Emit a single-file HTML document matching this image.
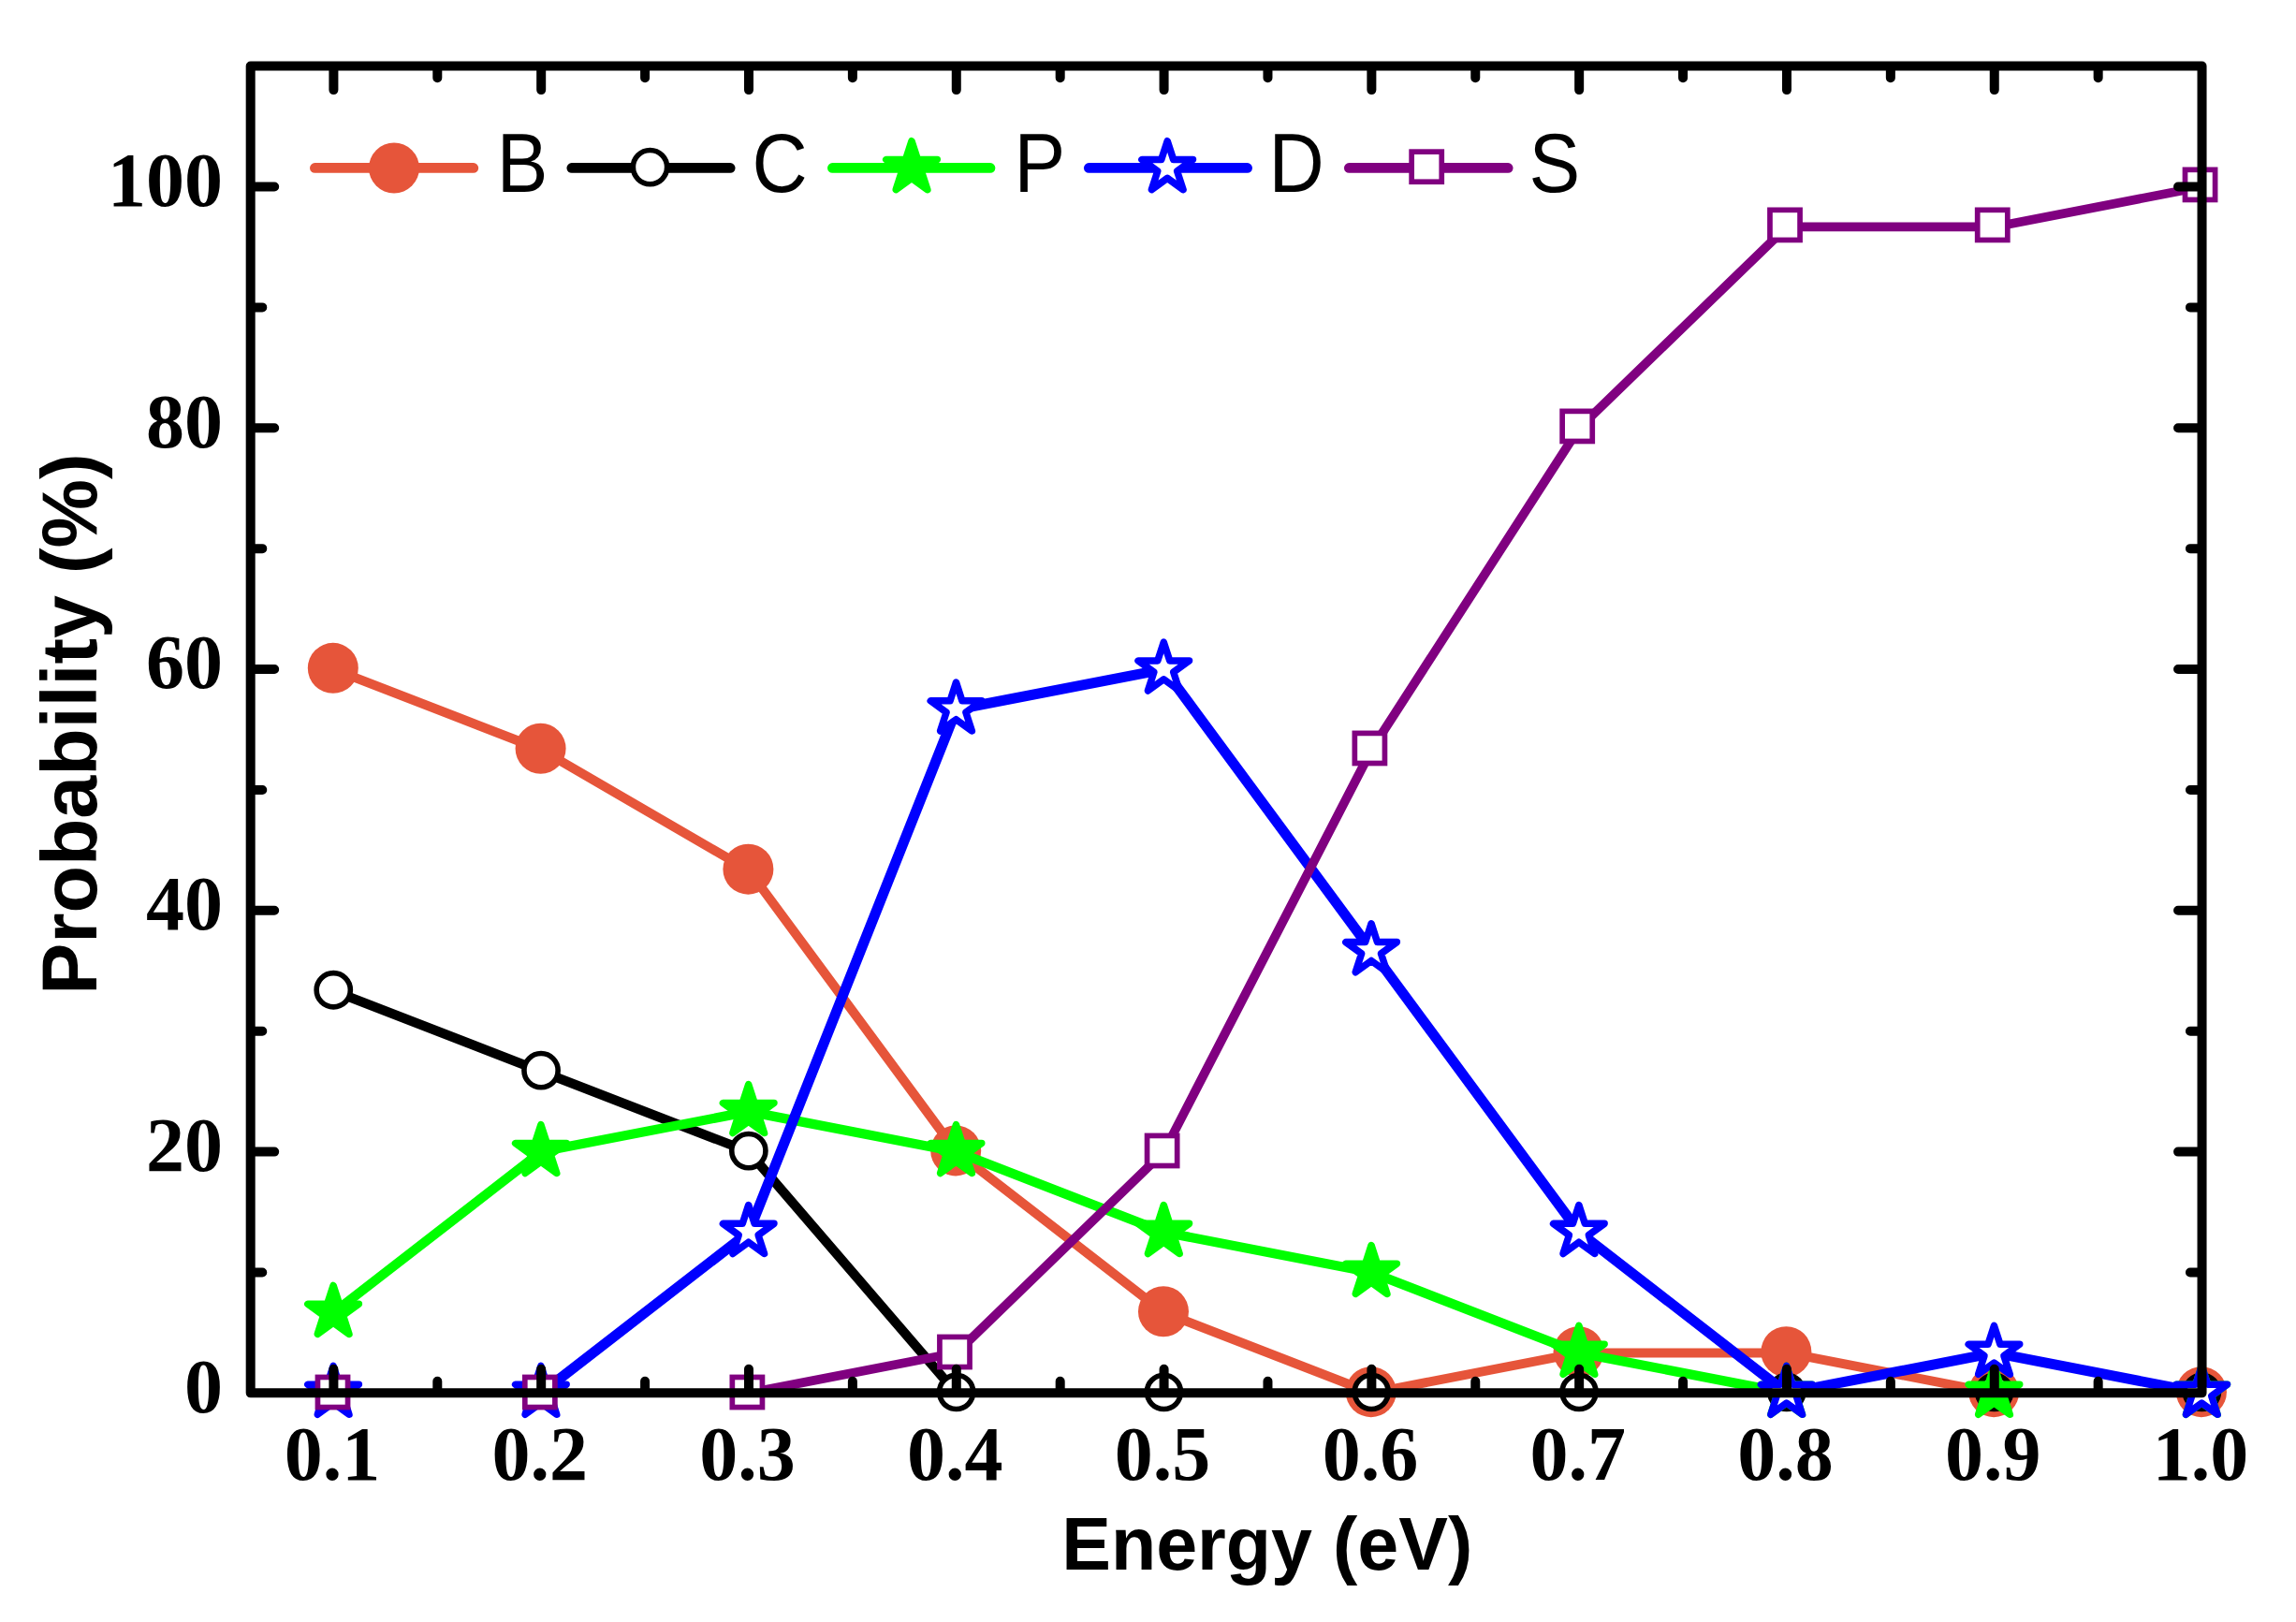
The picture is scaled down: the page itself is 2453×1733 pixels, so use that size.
<!DOCTYPE html>
<html lang="en"><head><meta charset="utf-8"><title>Probability vs Energy</title>
<style>html,body{margin:0;padding:0;background:#fff}svg{display:block}.tk{font-family:"Liberation Serif","Times New Roman",serif;font-weight:bold;font-size:82px;fill:#000}.lg{font-family:"Liberation Sans",Arial,sans-serif;font-size:82px;fill:#000}.ti{font-family:"Liberation Sans",Arial,sans-serif;font-weight:bold;fill:#000}</style></head><body>
<svg width="2453" height="1733" viewBox="0 0 2453 1733">
<rect width="2453" height="1733" fill="#fff"/>
<g id="series-B">
<polyline points="356.40,715.05 578.19,800.97 799.99,929.86 1021.78,1230.60 1243.58,1402.45 1465.37,1488.37 1687.16,1445.41 1908.96,1445.41 2130.75,1488.37" fill="none" stroke="#E6553A" stroke-width="10.0" stroke-linejoin="round" stroke-linecap="round"/>
<polyline points="2130.75,1488.37 2352.55,1488.37" fill="none" stroke="#E6553A" stroke-width="7.0" stroke-linejoin="round" stroke-linecap="round"/>
<circle cx="355.80" cy="713.85" r="27" fill="#E6553A"/>
<circle cx="577.59" cy="799.77" r="27" fill="#E6553A"/>
<circle cx="799.39" cy="928.66" r="27" fill="#E6553A"/>
<circle cx="1021.18" cy="1229.40" r="27" fill="#E6553A"/>
<circle cx="1242.98" cy="1401.25" r="27" fill="#E6553A"/>
<circle cx="1464.77" cy="1487.17" r="27" fill="#E6553A"/>
<circle cx="1686.56" cy="1444.21" r="27" fill="#E6553A"/>
<circle cx="1908.36" cy="1444.21" r="27" fill="#E6553A"/>
<circle cx="2130.15" cy="1487.17" r="27" fill="#E6553A"/>
<circle cx="2351.95" cy="1487.17" r="27" fill="#E6553A"/>
</g>
<g id="series-C">
<polyline points="356.40,1058.75 578.19,1144.67 799.99,1230.60 1021.78,1488.37" fill="none" stroke="#000000" stroke-width="10.2" stroke-linejoin="round" stroke-linecap="round"/>
<polyline points="1021.78,1488.37 1243.58,1488.37 1465.37,1488.37 1687.16,1488.37 1908.96,1488.37 2130.75,1488.37 2352.55,1488.37" fill="none" stroke="#000000" stroke-width="7.0" stroke-linejoin="round" stroke-linecap="round"/>
<circle cx="356.25" cy="1057.75" r="18.1" fill="#fff" stroke="#000000" stroke-width="5.6"/>
<circle cx="578.04" cy="1143.67" r="18.1" fill="#fff" stroke="#000000" stroke-width="5.6"/>
<circle cx="799.84" cy="1229.60" r="18.1" fill="#fff" stroke="#000000" stroke-width="5.6"/>
<circle cx="1021.63" cy="1487.37" r="18.1" fill="#fff" stroke="#000000" stroke-width="5.6"/>
<circle cx="1243.43" cy="1487.37" r="18.1" fill="#fff" stroke="#000000" stroke-width="5.6"/>
<circle cx="1465.22" cy="1487.37" r="18.1" fill="#fff" stroke="#000000" stroke-width="5.6"/>
<circle cx="1687.01" cy="1487.37" r="18.1" fill="#fff" stroke="#000000" stroke-width="5.6"/>
<circle cx="1908.81" cy="1487.37" r="18.1" fill="#fff" stroke="#000000" stroke-width="5.6"/>
<circle cx="2130.60" cy="1487.37" r="18.1" fill="#fff" stroke="#000000" stroke-width="5.6"/>
<circle cx="2352.40" cy="1487.37" r="18.1" fill="#fff" stroke="#000000" stroke-width="5.6"/>
</g>
<g id="series-P">
<polyline points="356.40,1402.45 578.19,1230.60 799.99,1187.63 1021.78,1230.60 1243.58,1316.52 1465.37,1359.48 1687.16,1445.41 1908.96,1488.37" fill="none" stroke="#00FF00" stroke-width="10.2" stroke-linejoin="round" stroke-linecap="round"/>
<polyline points="1908.96,1488.37 2130.75,1488.37 2352.55,1488.37" fill="none" stroke="#00FF00" stroke-width="7.0" stroke-linejoin="round" stroke-linecap="round"/>
<polygon points="356.10,1373.45 362.54,1393.28 383.40,1393.28 366.53,1405.53 372.97,1425.36 356.10,1413.11 339.23,1425.36 345.67,1405.53 328.80,1393.28 349.66,1393.28" fill="#00FF00" stroke="#00FF00" stroke-width="7.5" stroke-linejoin="round"/>
<polygon points="577.89,1201.60 584.34,1221.43 605.19,1221.43 588.32,1233.68 594.76,1253.51 577.89,1241.26 561.02,1253.51 567.47,1233.68 550.60,1221.43 571.45,1221.43" fill="#00FF00" stroke="#00FF00" stroke-width="7.5" stroke-linejoin="round"/>
<polygon points="799.69,1158.63 806.13,1178.46 826.98,1178.46 810.11,1190.72 816.56,1210.55 799.69,1198.30 782.82,1210.55 789.26,1190.72 772.39,1178.46 793.24,1178.46" fill="#00FF00" stroke="#00FF00" stroke-width="7.5" stroke-linejoin="round"/>
<polygon points="1021.48,1201.60 1027.93,1221.43 1048.78,1221.43 1031.91,1233.68 1038.35,1253.51 1021.48,1241.26 1004.61,1253.51 1011.06,1233.68 994.19,1221.43 1015.04,1221.43" fill="#00FF00" stroke="#00FF00" stroke-width="7.5" stroke-linejoin="round"/>
<polygon points="1243.28,1287.52 1249.72,1307.35 1270.57,1307.35 1253.70,1319.61 1260.15,1339.44 1243.28,1327.18 1226.41,1339.44 1232.85,1319.61 1215.98,1307.35 1236.83,1307.35" fill="#00FF00" stroke="#00FF00" stroke-width="7.5" stroke-linejoin="round"/>
<polygon points="1465.07,1330.48 1471.51,1350.31 1492.37,1350.31 1475.50,1362.57 1481.94,1382.40 1465.07,1370.15 1448.20,1382.40 1454.64,1362.57 1437.77,1350.31 1458.63,1350.31" fill="#00FF00" stroke="#00FF00" stroke-width="7.5" stroke-linejoin="round"/>
<polygon points="1686.86,1416.41 1693.31,1436.24 1714.16,1436.24 1697.29,1448.50 1703.73,1468.33 1686.86,1456.07 1669.99,1468.33 1676.44,1448.50 1659.57,1436.24 1680.42,1436.24" fill="#00FF00" stroke="#00FF00" stroke-width="7.5" stroke-linejoin="round"/>
<polygon points="1908.66,1459.37 1915.10,1479.20 1935.95,1479.20 1919.08,1491.46 1925.53,1511.29 1908.66,1499.03 1891.79,1511.29 1898.23,1491.46 1881.36,1479.20 1902.21,1479.20" fill="#00FF00" stroke="#00FF00" stroke-width="7.5" stroke-linejoin="round"/>
<polygon points="2130.45,1459.37 2136.90,1479.20 2157.75,1479.20 2140.88,1491.46 2147.32,1511.29 2130.45,1499.03 2113.58,1511.29 2120.03,1491.46 2103.16,1479.20 2124.01,1479.20" fill="#00FF00" stroke="#00FF00" stroke-width="7.5" stroke-linejoin="round"/>
<polygon points="2352.25,1459.37 2358.69,1479.20 2379.54,1479.20 2362.67,1491.46 2369.12,1511.29 2352.25,1499.03 2335.38,1511.29 2341.82,1491.46 2324.95,1479.20 2345.80,1479.20" fill="#00FF00" stroke="#00FF00" stroke-width="7.5" stroke-linejoin="round"/>
</g>
<g id="series-D">
<polyline points="356.40,1488.37 578.19,1488.37" fill="none" stroke="#0000FF" stroke-width="7.0" stroke-linejoin="round" stroke-linecap="round"/>
<polyline points="578.19,1488.37 799.99,1316.52 1021.78,758.01 1243.58,715.05 1465.37,1015.78 1687.16,1316.52 1908.96,1488.37 2130.75,1445.41 2352.55,1488.37" fill="none" stroke="#0000FF" stroke-width="11.0" stroke-linejoin="round" stroke-linecap="round"/>
<polygon points="356.10,1459.37 362.54,1479.20 383.40,1479.20 366.53,1491.46 372.97,1511.29 356.10,1499.03 339.23,1511.29 345.67,1491.46 328.80,1479.20 349.66,1479.20" fill="#fff" stroke="#0000FF" stroke-width="7.5" stroke-linejoin="round"/>
<polygon points="577.89,1459.37 584.34,1479.20 605.19,1479.20 588.32,1491.46 594.76,1511.29 577.89,1499.03 561.02,1511.29 567.47,1491.46 550.60,1479.20 571.45,1479.20" fill="#fff" stroke="#0000FF" stroke-width="7.5" stroke-linejoin="round"/>
<polygon points="799.69,1287.52 806.13,1307.35 826.98,1307.35 810.11,1319.61 816.56,1339.44 799.69,1327.18 782.82,1339.44 789.26,1319.61 772.39,1307.35 793.24,1307.35" fill="#fff" stroke="#0000FF" stroke-width="7.5" stroke-linejoin="round"/>
<polygon points="1021.48,729.01 1027.93,748.84 1048.78,748.84 1031.91,761.10 1038.35,780.93 1021.48,768.67 1004.61,780.93 1011.06,761.10 994.19,748.84 1015.04,748.84" fill="#fff" stroke="#0000FF" stroke-width="7.5" stroke-linejoin="round"/>
<polygon points="1243.28,686.05 1249.72,705.88 1270.57,705.88 1253.70,718.14 1260.15,737.97 1243.28,725.71 1226.41,737.97 1232.85,718.14 1215.98,705.88 1236.83,705.88" fill="#fff" stroke="#0000FF" stroke-width="7.5" stroke-linejoin="round"/>
<polygon points="1465.07,986.78 1471.51,1006.62 1492.37,1006.62 1475.50,1018.87 1481.94,1038.70 1465.07,1026.45 1448.20,1038.70 1454.64,1018.87 1437.77,1006.62 1458.63,1006.62" fill="#fff" stroke="#0000FF" stroke-width="7.5" stroke-linejoin="round"/>
<polygon points="1686.86,1287.52 1693.31,1307.35 1714.16,1307.35 1697.29,1319.61 1703.73,1339.44 1686.86,1327.18 1669.99,1339.44 1676.44,1319.61 1659.57,1307.35 1680.42,1307.35" fill="#fff" stroke="#0000FF" stroke-width="7.5" stroke-linejoin="round"/>
<polygon points="1908.66,1459.37 1915.10,1479.20 1935.95,1479.20 1919.08,1491.46 1925.53,1511.29 1908.66,1499.03 1891.79,1511.29 1898.23,1491.46 1881.36,1479.20 1902.21,1479.20" fill="#fff" stroke="#0000FF" stroke-width="7.5" stroke-linejoin="round"/>
<polygon points="2130.45,1416.41 2136.90,1436.24 2157.75,1436.24 2140.88,1448.50 2147.32,1468.33 2130.45,1456.07 2113.58,1468.33 2120.03,1448.50 2103.16,1436.24 2124.01,1436.24" fill="#fff" stroke="#0000FF" stroke-width="7.5" stroke-linejoin="round"/>
<polygon points="2352.25,1459.37 2358.69,1479.20 2379.54,1479.20 2362.67,1491.46 2369.12,1511.29 2352.25,1499.03 2335.38,1511.29 2341.82,1491.46 2324.95,1479.20 2345.80,1479.20" fill="#fff" stroke="#0000FF" stroke-width="7.5" stroke-linejoin="round"/>
</g>
<g id="series-S">
<polyline points="356.40,1488.37 578.19,1488.37 799.99,1488.37" fill="none" stroke="#800080" stroke-width="7.0" stroke-linejoin="round" stroke-linecap="round"/>
<polyline points="799.99,1488.37 1021.78,1445.41 1243.58,1230.60 1465.37,800.97 1687.16,457.27 1908.96,242.46 2130.75,242.46 2352.55,199.50" fill="none" stroke="#800080" stroke-width="9.7" stroke-linejoin="round" stroke-linecap="round"/>
<rect x="339.45" y="1471.45" width="32.1" height="32.1" fill="#fff" stroke="#800080" stroke-width="5.7"/>
<rect x="560.79" y="1471.45" width="32.1" height="32.1" fill="#fff" stroke="#800080" stroke-width="5.7"/>
<rect x="782.34" y="1471.45" width="32.1" height="32.1" fill="#fff" stroke="#800080" stroke-width="5.7"/>
<rect x="1003.93" y="1428.45" width="32.1" height="32.1" fill="#fff" stroke="#800080" stroke-width="5.7"/>
<rect x="1225.56" y="1213.43" width="32.1" height="32.1" fill="#fff" stroke="#800080" stroke-width="5.7"/>
<rect x="1447.35" y="783.40" width="32.1" height="32.1" fill="#fff" stroke="#800080" stroke-width="5.7"/>
<rect x="1669.14" y="439.37" width="32.1" height="32.1" fill="#fff" stroke="#800080" stroke-width="5.7"/>
<rect x="1890.96" y="224.35" width="32.1" height="32.1" fill="#fff" stroke="#800080" stroke-width="5.7"/>
<rect x="2112.70" y="224.35" width="32.1" height="32.1" fill="#fff" stroke="#800080" stroke-width="5.7"/>
<rect x="2334.50" y="181.35" width="32.1" height="32.1" fill="#fff" stroke="#800080" stroke-width="5.7"/>
</g>
<g id="axes" stroke="#000" stroke-width="10" stroke-linecap="round" fill="none">
<rect x="267.68" y="70.61" width="2084.86" height="1417.76" stroke-linejoin="round"/>
<path d="M356.40 1487.37v-24.5 M356.40 71.61v24.5"/>
<path d="M578.19 1487.37v-24.5 M578.19 71.61v24.5"/>
<path d="M799.99 1487.37v-24.5 M799.99 71.61v24.5"/>
<path d="M1021.78 1487.37v-24.5 M1021.78 71.61v24.5"/>
<path d="M1243.58 1487.37v-24.5 M1243.58 71.61v24.5"/>
<path d="M1465.37 1487.37v-24.5 M1465.37 71.61v24.5"/>
<path d="M1687.16 1487.37v-24.5 M1687.16 71.61v24.5"/>
<path d="M1908.96 1487.37v-24.5 M1908.96 71.61v24.5"/>
<path d="M2130.75 1487.37v-24.5 M2130.75 71.61v24.5"/>
<path d="M467.30 1487.37v-11.6 M467.30 71.61v11.6"/>
<path d="M689.09 1487.37v-11.6 M689.09 71.61v11.6"/>
<path d="M910.88 1487.37v-11.6 M910.88 71.61v11.6"/>
<path d="M1132.68 1487.37v-11.6 M1132.68 71.61v11.6"/>
<path d="M1354.47 1487.37v-11.6 M1354.47 71.61v11.6"/>
<path d="M1576.27 1487.37v-11.6 M1576.27 71.61v11.6"/>
<path d="M1798.06 1487.37v-11.6 M1798.06 71.61v11.6"/>
<path d="M2019.86 1487.37v-11.6 M2019.86 71.61v11.6"/>
<path d="M2241.65 1487.37v-11.6 M2241.65 71.61v11.6"/>
<path d="M268.68 1230.60h24.5 M2351.55 1230.60h-24.5"/>
<path d="M268.68 972.82h24.5 M2351.55 972.82h-24.5"/>
<path d="M268.68 715.05h24.5 M2351.55 715.05h-24.5"/>
<path d="M268.68 457.27h24.5 M2351.55 457.27h-24.5"/>
<path d="M268.68 199.50h24.5 M2351.55 199.50h-24.5"/>
<path d="M268.68 1359.48h11.6 M2351.55 1359.48h-11.6"/>
<path d="M268.68 1101.71h11.6 M2351.55 1101.71h-11.6"/>
<path d="M268.68 843.93h11.6 M2351.55 843.93h-11.6"/>
<path d="M268.68 586.16h11.6 M2351.55 586.16h-11.6"/>
<path d="M268.68 328.39h11.6 M2351.55 328.39h-11.6"/>
</g>
<g class="tk" text-anchor="end">
<text x="238" y="1508.7">0</text>
<text x="238" y="1250.9">20</text>
<text x="238" y="993.1">40</text>
<text x="238" y="735.3">60</text>
<text x="238" y="477.6">80</text>
<text x="238" y="219.8">100</text>
</g>
<g class="tk" text-anchor="middle">
<text x="354.9" y="1580.6">0.1</text>
<text x="576.7" y="1580.6">0.2</text>
<text x="798.5" y="1580.6">0.3</text>
<text x="1020.3" y="1580.6">0.4</text>
<text x="1242.1" y="1580.6">0.5</text>
<text x="1463.9" y="1580.6">0.6</text>
<text x="1685.7" y="1580.6">0.7</text>
<text x="1907.5" y="1580.6">0.8</text>
<text x="2129.3" y="1580.6">0.9</text>
<text x="2351.0" y="1580.6">1.0</text>
</g>
<text class="ti" font-size="79" x="1353.7" y="1676.6" text-anchor="middle">Energy (eV)</text>
<text class="ti" font-size="82.6" transform="translate(102.9,773.7) rotate(-90)" text-anchor="middle">Probability (%)</text>
<g id="legend">
<line x1="336.4" y1="179.45" x2="505.8" y2="179.45" stroke="#E6553A" stroke-width="10.7" stroke-linecap="round"/>
<circle cx="421.00" cy="179.50" r="27" fill="#E6553A"/>
<text class="lg" transform="translate(530.7,204.6) scale(1,1.085)">B</text>
<line x1="610.8" y1="179.45" x2="780.2" y2="179.45" stroke="#000000" stroke-width="10.7" stroke-linecap="round"/>
<circle cx="694.50" cy="178.60" r="18.1" fill="#fff" stroke="#000000" stroke-width="5.6"/>
<text class="lg" transform="translate(803.6,204.6) scale(1,1.085)">C</text>
<line x1="889.4" y1="179.45" x2="1058.0" y2="179.45" stroke="#00FF00" stroke-width="10.7" stroke-linecap="round"/>
<polygon points="974.00,150.70 980.44,170.53 1001.30,170.53 984.43,182.79 990.87,202.62 974.00,190.36 957.13,202.62 963.57,182.79 946.70,170.53 967.56,170.53" fill="#00FF00" stroke="#00FF00" stroke-width="7.5" stroke-linejoin="round"/>
<text class="lg" transform="translate(1083.4,204.6) scale(1,1.085)">P</text>
<line x1="1163.3" y1="179.45" x2="1332.6" y2="179.45" stroke="#0000FF" stroke-width="10.7" stroke-linecap="round"/>
<polygon points="1247.20,150.70 1253.64,170.53 1274.50,170.53 1257.63,182.79 1264.07,202.62 1247.20,190.36 1230.33,202.62 1236.77,182.79 1219.90,170.53 1240.76,170.53" fill="#fff" stroke="#0000FF" stroke-width="7.5" stroke-linejoin="round"/>
<text class="lg" transform="translate(1355.5,204.6) scale(1,1.085)">D</text>
<line x1="1441.3" y1="179.45" x2="1611.2" y2="179.45" stroke="#800080" stroke-width="10.7" stroke-linecap="round"/>
<rect x="1508.15" y="162.15" width="32.1" height="32.1" fill="#fff" stroke="#800080" stroke-width="5.7"/>
<text class="lg" transform="translate(1633.5,204.6) scale(1,1.085)">S</text>
</g>
</svg></body></html>
